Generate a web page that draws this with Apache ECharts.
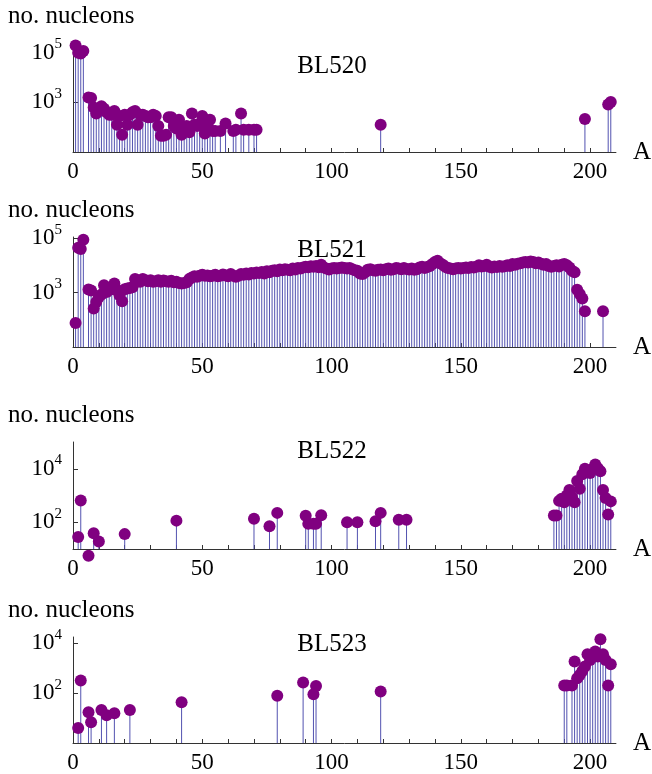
<!DOCTYPE html>
<html><head><meta charset="utf-8">
<script src="https://cdn.jsdelivr.net/npm/echarts@6/dist/echarts.min.js"></script>
<style>html,body{margin:0;padding:0;background:#fff}#c{width:652px;height:774px}</style>
</head><body><div id="c"></div>
<script>
// ---- data (A = mass number, N = number of nucleons) ----
const panelNames = ['BL520', 'BL521', 'BL522', 'BL523'];
const xLabelTicks = [0, 50, 100, 150, 200];
const xMinorTicks = [0,10,20,30,40,50,60,70,80,90,100,110,120,130,140,150,160,170,180,190,200];

const A520 = [1,2,3,4,6,7,8,9,10,11,12,13,14,15,16,17,18,19,20,21,22,23,24,25,26,27,28,29,30,31,32,33,34,35,36,37,38,39,40,41,42,43,44,45,46,47,48,49,50,51,52,53,54,55,57,59,62,63,65,66,68,70,71,119,198,207,208];
const N520 = [200000,100000,95000,120000,1580,1510,631,355,562,708,562,398,316,316,447,126,282,50,316,126,316,398,447,126,316,316,282,251,251,316,282,112,45,45,50,251,251,112,89,200,50,89,112,63,355,126,112,141,282,56,126,200,71,71,71,141,71,79,355,79,79,79,79,126,214,832,1050];

const A521 = [1,2,3,4,6,7,8,9,10,11,12,13,14,15,16,17,18,19,20,21,22,23,24,25,26,27,28,29,30,31,32,33,34,35,36,37,38,39,40,41,42,43,44,45,46,47,48,49,50,51,52,53,54,55,56,57,58,59,60,61,62,63,64,65,66,67,68,69,70,71,72,73,74,75,76,77,78,79,80,81,82,83,84,85,86,87,88,89,90,91,92,93,94,95,96,97,98,99,100,101,102,103,104,105,106,107,108,109,110,111,112,113,114,115,116,117,118,119,120,121,122,123,124,125,126,127,128,129,130,131,132,133,134,135,136,137,138,139,140,141,142,143,144,145,146,147,148,149,150,151,152,153,154,155,156,157,158,159,160,161,162,163,164,165,166,167,168,169,170,171,172,173,174,175,176,177,178,179,180,181,182,183,184,185,186,187,188,189,190,191,192,193,194,195,196,197,198,205];
const N521 = [76,44700,39800,87000,1290,1200,257,447,692,851,1860,1050,1230,1410,2140,1230,794,479,1320,1410,1480,1580,3160,2820,2510,3160,2820,2630,2820,2510,2630,2820,2510,2750,2630,2510,2690,2400,2510,2240,2140,2240,2400,3160,3550,3980,3800,4170,4470,4170,4270,3980,4170,4470,3980,4170,4570,4270,3980,4790,4170,3800,4170,4790,4470,5010,4570,5250,5010,5500,5250,5750,5010,6030,5620,6310,6610,6030,7080,6610,7240,6920,6610,7590,7080,7940,7590,8320,8910,8510,9330,8910,9550,8510,10500,8320,7590,7080,7590,7940,7590,7940,8320,7940,7590,7940,7240,6610,6310,5010,4790,5620,6920,7240,6610,6310,6920,7080,6610,7240,7590,6920,7240,7940,7590,7240,7940,7410,7080,7590,6920,7240,8320,8910,7940,8710,9550,11200,13200,14800,12000,10500,8910,7940,7590,7240,7590,7940,7590,7940,8320,7940,8710,8320,8910,10000,9120,9550,10500,8910,8320,9120,8710,9550,8910,9330,10000,9550,11200,10500,11500,12000,12600,13200,12600,13800,13200,12000,12600,11500,10500,11200,9550,8910,9550,10000,9120,10500,11200,10000,8320,6310,5620,1260,891,603,204,204];

const A522 = [2,3,6,8,10,20,40,70,76,79,90,91,93,94,96,106,110,117,119,126,129,186,187,188,189,190,191,192,193,194,195,196,197,198,199,200,201,202,203,204,205,206,207,208];
const N522 = [28,646,5.6,39,19,36,115,135,71,224,174,87,87,87,182,100,100,110,224,123,123,178,178,630,759,562,1000,1620,871,562,3470,1780,6170,10000,7940,6920,10000,14500,10500,8130,1620,813,195,603];

const A523 = [2,3,6,7,11,13,16,22,42,79,89,93,94,119,190,191,193,194,195,196,197,198,199,200,201,202,203,204,205,206,207,208];
const N523 = [4,324,17,6.8,21,13,15.5,21,43,78,269,91,195,117,204,204,204,1860,398,537,776,1170,3630,2140,2820,4680,2950,14500,3630,2140,204,1450];

const yTicks = [[1000, 100000], [1000, 100000], [100, 10000], [100, 10000]];
const yMin = [10, 10, 10, 1];
const yMax = [250000, 110000, 100000, 17800];

// ---- layout ----
const FONT = '"Liberation Serif", "Times New Roman", serif';
const grids = [
  {top: 43, height: 109},
  {top: 237, height: 110},
  {top: 442, height: 107},
  {top: 637, height: 107}
];
const ylabY = [16, 210, 415, 610];
const titleY = [66, 250, 451, 644];
const As = [A520, A521, A522, A523];
const Ns = [N520, N521, N522, N523];
const stemColor = '#5252b0';
const dotColor = '#800080';
const axisColor = '#333';

const option = {
  animation: false,
  backgroundColor: '#fff',
  grid: grids.map(g => ({left: 73, right: 36, top: g.top, height: g.height})),
  xAxis: grids.map((g, i) => ({
    type: 'value', gridIndex: i, min: 0, max: 210,
    name: 'A', nameLocation: 'end', nameGap: 17,
    nameTextStyle: {fontFamily: FONT, fontSize: 25, color: '#000', padding: [0, 0, 8, 0]},
    axisLine: {show: true, onZero: false, lineStyle: {color: axisColor, width: 1}},
    axisTick: {show: true, inside: true, length: 4, customValues: xMinorTicks, lineStyle: {color: axisColor}},
    axisLabel: {margin: 8, fontFamily: FONT, fontSize: 23, color: '#000', customValues: xLabelTicks},
    splitLine: {show: false}
  })),
  yAxis: grids.map((g, i) => ({
    type: 'log', logBase: 10, gridIndex: i, min: yMin[i], max: yMax[i],
    axisLine: {show: true, onZero: false, lineStyle: {color: axisColor, width: 1}},
    axisTick: {show: true, inside: true, length: 5, customValues: yTicks[i], lineStyle: {color: axisColor}},
    axisLabel: {
      margin: 11, customValues: yTicks[i],
      formatter: v => '{b|10}{s|' + Math.round(Math.log10(v)) + '}',
      rich: {
        b: {fontFamily: FONT, fontSize: 23, color: '#000'},
        s: {fontFamily: FONT, fontSize: 15, color: '#000', padding: [0, 0, 17, 0]}
      }
    },
    splitLine: {show: false},
    minorTick: {show: false}
  })),
  graphic: [].concat(
    ylabY.map(y => ({type: 'text', x: 8, y: y,
      style: {text: 'no. nucleons', font: '25px ' + FONT, fill: '#000', verticalAlign: 'middle', align: 'left'}})),
    titleY.map((y, i) => ({type: 'text', x: 332, y: y,
      style: {text: panelNames[i], font: '25px ' + FONT, fill: '#000', verticalAlign: 'middle', align: 'center'}}))
  ),
  series: [].concat(
    As.map((a, i) => ({
      type: 'bar', xAxisIndex: i, yAxisIndex: i, barWidth: 1, clip: true,
      itemStyle: {color: stemColor}, silent: true,
      data: a.map((x, k) => [x, Ns[i][k]])
    })),
    As.map((a, i) => ({
      type: 'scatter', xAxisIndex: i, yAxisIndex: i, symbol: 'circle', symbolSize: 12, clip: false,
      itemStyle: {color: dotColor, opacity: 1}, silent: true, z: 3,
      data: a.map((x, k) => [x, Ns[i][k]])
    }))
  )
};

const chart = echarts.init(document.getElementById('c'), null, {renderer: 'canvas'});
chart.setOption(option);
</script>
</body></html>
